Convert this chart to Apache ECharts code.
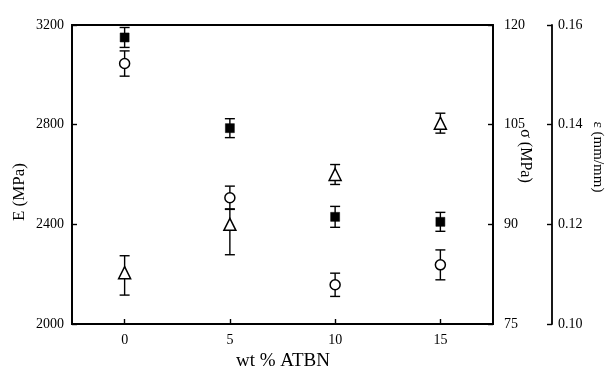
<!DOCTYPE html>
<html>
<head>
<meta charset="utf-8">
<script src="https://cdn.jsdelivr.net/npm/echarts@6/dist/echarts.min.js"></script>
<style>
html,body{margin:0;padding:0;background:#fff;}
#c{width:612px;height:371px;}
</style>
</head>
<body>
<div id="c"></div>
<script>
// ---- data ----
var wtATBN = [0, 5, 10, 15];
var xTicks = [0, 5, 10, 15];
// Young's modulus E (MPa) - filled squares, left axis
var modulusE = [3150, 2786, 2430, 2410];
var modulusErr = [40, 38, 42, 38];
// Strength sigma (MPa) - open circles, right axis
var strength = [114.2, 94.0, 80.9, 83.9];
var strengthErr = [1.9, 1.75, 1.75, 2.25];
// Strain epsilon (mm/mm) - open triangles, far right axis
var strain = [0.1103, 0.1200, 0.1300, 0.1403];
var strainErrUp = [0.0034, 0.0031, 0.0020, 0.0020];
var strainErrDown = [0.0045, 0.0061, 0.0020, 0.0020];

var E_ticks = [2000, 2400, 2800, 3200];
var S_ticks = [75, 90, 105, 120];
var EPS_ticks = [0.10, 0.12, 0.14, 0.16];

var FONT = 'Liberation Serif';

function pts(xs, ys) { return xs.map(function (x, i) { return [x, ys[i]]; }); }
function errPts(xs, ys, lo, hi) {
  return xs.map(function (x, i) { return [x, ys[i], ys[i] - lo[i], ys[i] + hi[i]]; });
}

function errRender(params, api) {
  var x = api.value(0);
  var lo = api.coord([x, api.value(2)]);
  var hi = api.coord([x, api.value(3)]);
  var hw = 5;
  var st = { stroke: '#000', lineWidth: 1.4 };
  return {
    type: 'group',
    children: [
      { type: 'line', shape: { x1: lo[0], y1: lo[1], x2: hi[0], y2: hi[1] }, style: st },
      { type: 'line', shape: { x1: lo[0] - hw, y1: lo[1], x2: lo[0] + hw, y2: lo[1] }, style: st },
      { type: 'line', shape: { x1: hi[0] - hw, y1: hi[1], x2: hi[0] + hw, y2: hi[1] }, style: st }
    ]
  };
}

var chart = echarts.init(document.getElementById('c'), null, { renderer: 'canvas' });

function axisLine() { return { show: true, onZero: false, lineStyle: { color: '#000', width: 1.8 } }; }
function axisTick(vals) { return { show: true, inside: true, length: 5, customValues: vals, lineStyle: { color: '#000', width: 1.4 } }; }
function axisLabel(vals, margin, fmt) {
  return { color: '#000', fontFamily: FONT, fontSize: 14, margin: margin, customValues: vals, formatter: fmt };
}
function plain(v) { return String(v); }

var option = {
  animation: false,
  backgroundColor: '#fff',
  grid: { left: 72, right: 119, top: 25, bottom: 47, show: true, borderColor: '#000', borderWidth: 1.8, backgroundColor: 'transparent' },
  xAxis: {
    type: 'value', min: -2.5, max: 17.5,
    axisLine: axisLine(), axisTick: axisTick(xTicks), splitLine: { show: false },
    axisLabel: axisLabel(xTicks, 9, plain)
  },
  yAxis: [
    {
      type: 'value', position: 'left', min: 2000, max: 3200, interval: 400,
      axisLine: axisLine(), axisTick: axisTick(E_ticks), splitLine: { show: false },
      axisLabel: axisLabel(E_ticks, 8, plain)
    },
    {
      type: 'value', position: 'right', offset: 0, min: 75, max: 120, interval: 15,
      axisLine: axisLine(), axisTick: axisTick(S_ticks), splitLine: { show: false },
      axisLabel: axisLabel(S_ticks, 11, plain)
    },
    {
      type: 'value', position: 'right', offset: 59, min: 0.10, max: 0.16, interval: 0.02,
      axisLine: axisLine(), axisTick: axisTick(EPS_ticks), splitLine: { show: false },
      axisLabel: axisLabel(EPS_ticks, 6, function (v) { return v.toFixed(2); })
    }
  ],
  graphic: [
    { type: 'text', x: 20, y: 192, rotation: Math.PI / 2,
      style: { text: 'E (MPa)', fontFamily: FONT, fontSize: 17, fill: '#000', align: 'center', verticalAlign: 'middle' } },
    { type: 'text', x: 525, y: 156, rotation: -Math.PI / 2,
      style: { text: 'σ (MPa)', fontFamily: FONT, fontSize: 16, fill: '#000', align: 'center', verticalAlign: 'middle' } },
    { type: 'text', x: 598, y: 157, rotation: -Math.PI / 2,
      style: { text: 'ε (mm/mm)', fontFamily: FONT, fontSize: 15, fill: '#000', align: 'center', verticalAlign: 'middle' } },
    { type: 'text', x: 283, y: 361,
      style: { text: 'wt % ATBN', fontFamily: FONT, fontSize: 19, fill: '#000', align: 'center', verticalAlign: 'middle' } }
  ],
  series: [
    { type: 'custom', yAxisIndex: 0, renderItem: errRender, encode: { x: 0, y: [2, 3] },
      data: errPts(wtATBN, modulusE, modulusErr, modulusErr), z: 2 },
    { type: 'custom', yAxisIndex: 1, renderItem: errRender, encode: { x: 0, y: [2, 3] },
      data: errPts(wtATBN, strength, strengthErr, strengthErr), z: 2 },
    { type: 'custom', yAxisIndex: 2, renderItem: errRender, encode: { x: 0, y: [2, 3] },
      data: errPts(wtATBN, strain, strainErrDown, strainErrUp), z: 2 },
    { type: 'scatter', yAxisIndex: 0, data: pts(wtATBN, modulusE), symbol: 'rect', symbolSize: 9,
      itemStyle: { color: '#000', borderColor: '#000', borderWidth: 0.5, opacity: 1 }, z: 5 },
    { type: 'scatter', yAxisIndex: 1, data: pts(wtATBN, strength), symbol: 'circle', symbolSize: 10,
      itemStyle: { color: '#fff', borderColor: '#000', borderWidth: 1.5, opacity: 1 }, z: 5 },
    { type: 'scatter', yAxisIndex: 2, data: pts(wtATBN, strain), symbol: 'triangle', symbolSize: 12,
      itemStyle: { color: '#fff', borderColor: '#000', borderWidth: 1.5, opacity: 1 }, z: 5 }
  ]
};
chart.setOption(option);
</script>
</body>
</html>
